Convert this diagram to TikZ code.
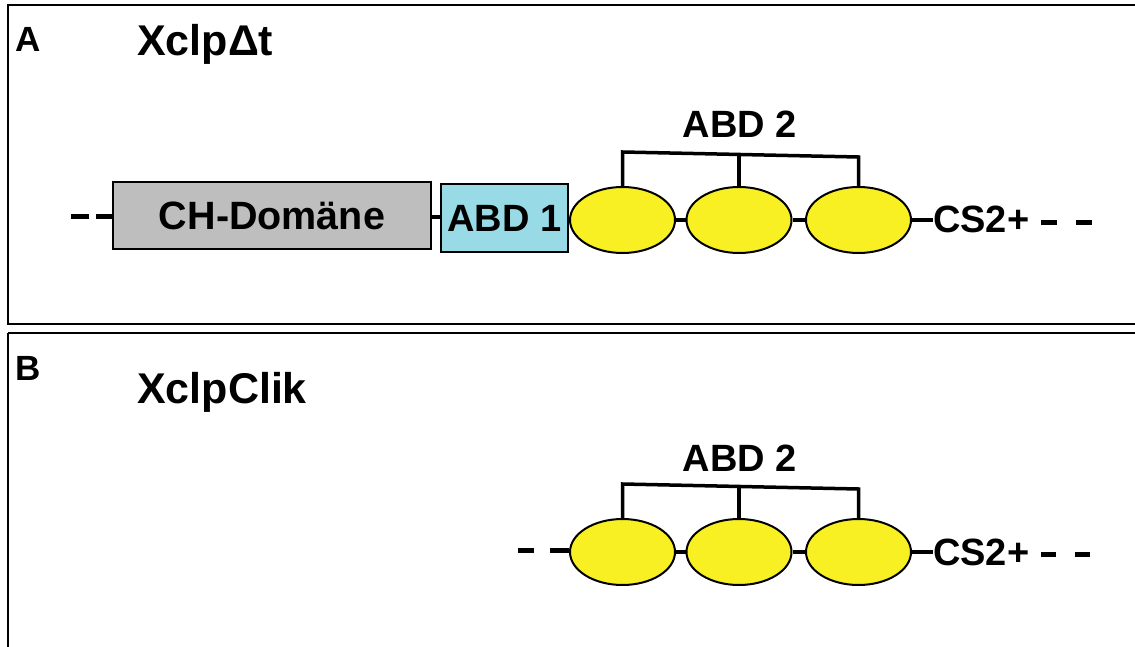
\documentclass[tikz,border=0pt]{standalone}
\usepackage{fontspec}
\setmainfont{Liberation Sans}
\usetikzlibrary{shapes.geometric}
\definecolor{chgray}{RGB}{190,190,190}
\definecolor{abdblue}{RGB}{152,218,230}
\definecolor{ringyellow}{RGB}{248,240,35}
\begin{document}
\begin{tikzpicture}[x=1pt,y=-1pt,
  frame/.style={draw=black,line width=2.5pt},
  lbl/.style={font=\bfseries\fontsize{35}{38}\selectfont,anchor=base west,inner sep=0pt},
  title/.style={font=\bfseries\fontsize{43}{48}\selectfont,anchor=base west,inner sep=0pt},
  dom/.style={font=\bfseries\fontsize{38}{42}\selectfont,inner sep=0pt},
  chbox/.style={draw=black,line width=2pt,fill=chgray,minimum width=318pt,minimum height=67pt,inner sep=0pt,
    text height=30pt,text depth=3pt,font=\bfseries\fontsize{39.5}{44}\selectfont},
  abdbox/.style={draw=black,line width=2pt,fill=abdblue,minimum width=127pt,minimum height=67pt,inner sep=0pt,
    text height=28pt,text depth=0pt,font=\bfseries\fontsize{38}{42}\selectfont},
  ring/.style={ellipse,draw=black,line width=2pt,fill=ringyellow,minimum width=105pt,minimum height=66pt,inner sep=0pt},
  link/.style={line width=4pt},
  dashseg/.style={line width=5pt},
  bracket/.style={line width=3.5pt}
]
\useasboundingbox (0,0) rectangle (1135,647);
% frames
\draw[frame] (8,5) rectangle (1150,324);
\draw[frame] (8,333) -- (1150,333);
\draw[frame] (8,333) -- (8,660);

% Panel A
\node[lbl] (la) at (15,52) {A};
\node[title] (ta) at (137,56) {XclpΔt};
\node[chbox] (ch) at (272,215.7) {CH-Domäne};
\node[abdbox] (abd1) at (504.5,218) {ABD 1};
\node[ring] (a1) at (622.5,220) {};
\node[ring] (a2) at (739,220) {};
\node[ring] (a3) at (858.5,220) {};
\draw[link] (ch.east |- 0,217.5) -- (abd1.west |- 0,217.5);
\draw[link] (a1.east) -- (a2.west);
\draw[link] (a2.east) -- (a3.west);
\node[dom,anchor=base west] (csa) at (933,233) {CS2+};
\draw[link] (a3.east) -- (csa.west |- a3.east);
\coordinate (ad1) at (71,217);
\coordinate (ad2) at (89,217);
\coordinate (ad3) at (96,217);
\draw[dashseg] (ad1) -- (ad2);
\draw[dashseg] (ad3) -- (ch.west |- ad3);
\coordinate (ar1) at (1041,223);
\coordinate (ar2) at (1057,223);
\coordinate (ar3) at (1076,223);
\coordinate (ar4) at (1092,223);
\draw[dashseg] (ar1) -- (ar2);
\draw[dashseg] (ar3) -- (ar4);
\coordinate (ab1) at (622.5,152);
\coordinate (ab2) at (739,154.5);
\coordinate (ab3) at (858.5,157);
\draw[bracket] (a1.north) -- (ab1) -- (ab3) -- (a3.north);
\draw[bracket] (a2.north) -- (ab2);
\node[dom,anchor=base] (abd2a) at (740,138) {ABD 2};

% Panel B
\node[lbl] (lb) at (15,380) {B};
\node[title] (tb) at (137,403) {XclpClik};
\node[ring] (b1) at (622.5,552) {};
\node[ring] (b2) at (739,552) {};
\node[ring] (b3) at (858.5,552) {};
\draw[link] (b1.east) -- (b2.west);
\draw[link] (b2.east) -- (b3.west);
\node[dom,anchor=base west] (csb) at (933,565) {CS2+};
\draw[link] (b3.east) -- (csb.west |- b3.east);
\coordinate (bd1) at (518,550);
\coordinate (bd2) at (534,550);
\coordinate (bd3) at (550,550);
\draw[dashseg] (bd1) -- (bd2);
\draw[dashseg] (bd3) -- (b1.west |- bd3);
\coordinate (br1) at (1041,554);
\coordinate (br2) at (1056,554);
\coordinate (br3) at (1075,554);
\coordinate (br4) at (1090,554);
\draw[dashseg] (br1) -- (br2);
\draw[dashseg] (br3) -- (br4);
\coordinate (bb1) at (622.5,484);
\coordinate (bb2) at (739,486.5);
\coordinate (bb3) at (858.5,489);
\draw[bracket] (b1.north) -- (bb1) -- (bb3) -- (b3.north);
\draw[bracket] (b2.north) -- (bb2);
\node[dom,anchor=base] (abd2b) at (740,471) {ABD 2};
\end{tikzpicture}
\end{document}
